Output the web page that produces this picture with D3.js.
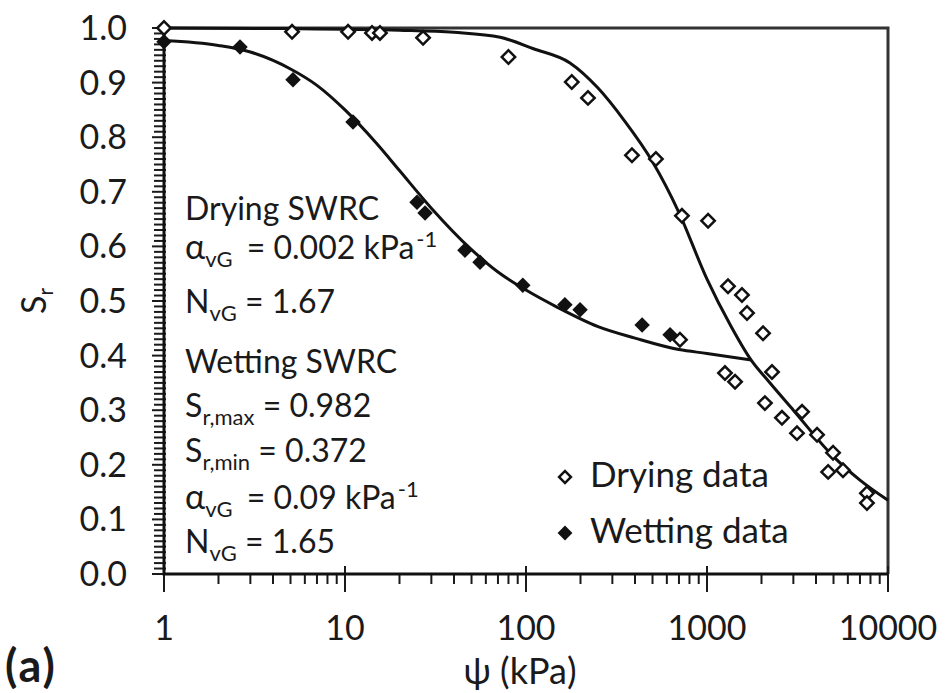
<!DOCTYPE html>
<html>
<head>
<meta charset="utf-8">
<script src="https://cdn.jsdelivr.net/npm/d3@7"></script>
<style>
  html, body { margin: 0; padding: 0; background: #fff; }
  svg { display: block; font-family: Lato, "Open Sans", sans-serif; }
</style>
</head>
<body>
<div id="chart"></div>
<script>
// measured data: drying (open diamonds) and wetting (filled diamonds)
const dryingPsi = [1, 5.1, 10.4, 14.1, 15.6, 27, 80, 179, 220, 385, 522, 727, 1014, 1306, 1560, 1664, 2040, 709, 1257, 1429, 2286, 2090, 2595, 3350, 3141, 4055, 4970, 5640, 4670, 7650, 7650];
const dryingSr  = [1.0, 0.993, 0.993, 0.991, 0.991, 0.982, 0.947, 0.901, 0.872, 0.767, 0.760, 0.656, 0.647, 0.527, 0.511, 0.478, 0.441, 0.429, 0.368, 0.352, 0.370, 0.313, 0.286, 0.297, 0.258, 0.255, 0.222, 0.190, 0.187, 0.148, 0.130];

const wettingPsi = [1, 2.63, 5.16, 11.07, 25, 27.7, 46, 55.7, 96, 164, 199, 438, 625];
const wettingSr  = [0.975, 0.965, 0.905, 0.828, 0.681, 0.661, 0.593, 0.571, 0.529, 0.493, 0.484, 0.456, 0.438];

// fitted SWRC lines
const dryFitPsi = [1, 5, 20, 40, 72, 110, 175, 250, 350, 500, 700, 1000, 1350, 1750, 2200, 3000, 5000, 7000, 10000];
const dryFitSr  = [1.0, 0.999, 0.996, 0.992, 0.983, 0.962, 0.936, 0.89, 0.83, 0.755, 0.662, 0.54, 0.455, 0.392, 0.352, 0.3, 0.215, 0.172, 0.135];
const wetFitPsi = [1, 2, 3, 5, 7, 10, 15, 20, 30, 50, 70, 100, 150, 250, 400, 700, 1000, 1750];
const wetFitSr  = [0.977, 0.968, 0.956, 0.925, 0.895, 0.85, 0.788, 0.739, 0.67, 0.594, 0.553, 0.52, 0.488, 0.453, 0.432, 0.411, 0.404, 0.392];

const xTickLabels = ["1", "10", "100", "1000", "10000"];
const legendLabels = ["Drying data", "Wetting data"];

const width = 947, height = 693;
const plotL = 164, plotR = 888, plotT = 28, plotB = 574;

const x = d3.scaleLog().domain([1, 10000]).range([plotL, plotR]);
const y = d3.scaleLinear().domain([0, 1]).range([plotB, plotT]);

const svg = d3.select("#chart").append("svg")
    .attr("width", width)
    .attr("height", height);

const ink = "#1a1a1a";

// frame (top / right)
svg.append("path")
    .attr("d", `M${plotL},${plotT}H${plotR}V${plotB}`)
    .attr("fill", "none")
    .attr("stroke", "#333")
    .attr("stroke-width", 3);

// y axis ticks
const yTicks = y.ticks(100);
svg.append("g").selectAll("line")
    .data(yTicks)
    .join("line")
    .attr("x1", d => Math.abs(d * 10 - Math.round(d * 10)) < 1e-6 ? plotL - 12 : plotL - 10)
    .attr("x2", plotL + 2)
    .attr("y1", d => y(d))
    .attr("y2", d => y(d))
    .attr("stroke", ink)
    .attr("stroke-width", 2);

svg.append("g").selectAll("text")
    .data(y.ticks(10))
    .join("text")
    .attr("x", 127)
    .attr("y", d => y(d) + 12)
    .attr("text-anchor", "end")
    .attr("font-size", 34)
    .attr("fill", ink)
    .text(d3.format(".1f"));

// x axis ticks
const xTicks = x.ticks();
const isMajor = d => Math.abs(Math.log10(d) - Math.round(Math.log10(d))) < 1e-9;
svg.append("g").selectAll("line")
    .data(xTicks)
    .join("line")
    .attr("x1", d => x(d))
    .attr("x2", d => x(d))
    .attr("y1", d => isMajor(d) ? plotB - 8 : plotB)
    .attr("y2", d => isMajor(d) ? plotB + 18 : plotB + 10)
    .attr("stroke", ink)
    .attr("stroke-width", 2);

svg.append("g").selectAll("text")
    .data(xTicks.filter(isMajor))
    .join("text")
    .attr("x", d => x(d))
    .attr("y", 640)
    .attr("text-anchor", "middle")
    .attr("font-size", 34)
    .attr("fill", ink)
    .text((d, i) => xTickLabels[i]);

// axis lines
svg.append("path")
    .attr("d", `M${plotL},${plotT}V${plotB}H${plotR}`)
    .attr("fill", "none")
    .attr("stroke", "#111")
    .attr("stroke-width", 3);

// fitted curves
const line = d3.line()
    .x(d => x(d[0]))
    .y(d => y(d[1]))
    .curve(d3.curveMonotoneX);

svg.append("path")
    .datum(d3.zip(dryFitPsi, dryFitSr))
    .attr("d", line)
    .attr("fill", "none")
    .attr("stroke", "#111")
    .attr("stroke-width", 3);

svg.append("path")
    .datum(d3.zip(wetFitPsi, wetFitSr))
    .attr("d", line)
    .attr("fill", "none")
    .attr("stroke", "#111")
    .attr("stroke-width", 3);

// markers
const diamond = d3.symbol(d3.symbolSquare, 90);

svg.append("g").selectAll("path")
    .data(d3.zip(dryingPsi, dryingSr))
    .join("path")
    .attr("d", diamond)
    .attr("transform", d => `translate(${x(d[0])},${y(d[1])}) rotate(45)`)
    .attr("fill", "#fff")
    .attr("stroke", "#111")
    .attr("stroke-width", 2.5);

svg.append("g").selectAll("path")
    .data(d3.zip(wettingPsi, wettingSr))
    .join("path")
    .attr("d", d3.symbol(d3.symbolSquare, 120))
    .attr("transform", d => `translate(${x(d[0])},${y(d[1])}) rotate(45)`)
    .attr("fill", "#111");

// parameter text block
const note = svg.append("g")
    .attr("font-size", 32)
    .attr("fill", ink);

function addLine(yPos, parts) {
    const t = note.append("text").attr("x", 185).attr("y", yPos);
    let shift = 0;
    parts.forEach(p => {
        const s = t.append("tspan").text(p.t);
        const want = p.sub ? 8 : p.sup ? -12 : 0;
        if (want - shift !== 0) s.attr("dy", want - shift);
        shift = want;
        if (p.sub || p.sup) s.attr("font-size", 22);
        if (p.big) s.attr("font-size", 34);
        if (p.dx) s.attr("dx", p.dx);
    });
}

addLine(220, [{t: "Drying SWRC"}]);
addLine(259, [{t: "\u03b1", big: true}, {t: "vG", sub: true}, {t: " = 0.002 kPa", dx: 6}, {t: "-1", sup: true, dx: 2}]);
addLine(313, [{t: "N"}, {t: "vG", sub: true}, {t: " = 1.67"}]);
addLine(373, [{t: "Wetting SWRC"}]);
addLine(417, [{t: "S"}, {t: "r,max", sub: true}, {t: " = 0.982"}]);
addLine(462, [{t: "S"}, {t: "r,min", sub: true}, {t: " = 0.372"}]);
addLine(509, [{t: "\u03b1", big: true}, {t: "vG", sub: true}, {t: " = 0.09 kPa", dx: 6}, {t: "-1", sup: true, dx: 2}]);
addLine(553, [{t: "N"}, {t: "vG", sub: true}, {t: " = 1.65"}]);

// legend
const legend = svg.append("g");
legendLabels.forEach((lab, i) => {
    const ly = 477 + i * 56;
    legend.append("path")
        .attr("d", d3.symbol(d3.symbolSquare, i ? 110 : 70))
        .attr("transform", `translate(565,${ly}) rotate(45)`)
        .attr("fill", i ? "#111" : "#fff")
        .attr("stroke", "#111")
        .attr("stroke-width", i ? 0 : 2.5);
    legend.append("text")
        .attr("x", 590)
        .attr("y", ly + 10)
        .attr("font-size", 35)
        .attr("fill", ink)
        .text(lab);
});

// axis titles
svg.append("text")
    .attr("x", 520)
    .attr("y", 684)
    .attr("text-anchor", "middle")
    .attr("font-size", 36)
    .attr("fill", ink)
    .text("\u03c8 (kPa)");

const yt = svg.append("text")
    .attr("transform", "translate(46,314) rotate(-90)")
    .attr("font-size", 34)
    .attr("fill", ink);
yt.append("tspan").text("S");
yt.append("tspan").attr("dy", 7).attr("font-size", 21).text("r");

svg.append("text")
    .attr("x", 5)
    .attr("y", 682)
    .attr("font-size", 45)
    .attr("font-weight", "bold")
    .attr("letter-spacing", 2)
    .attr("fill", ink)
    .text("(a)");
</script>
</body>
</html>
